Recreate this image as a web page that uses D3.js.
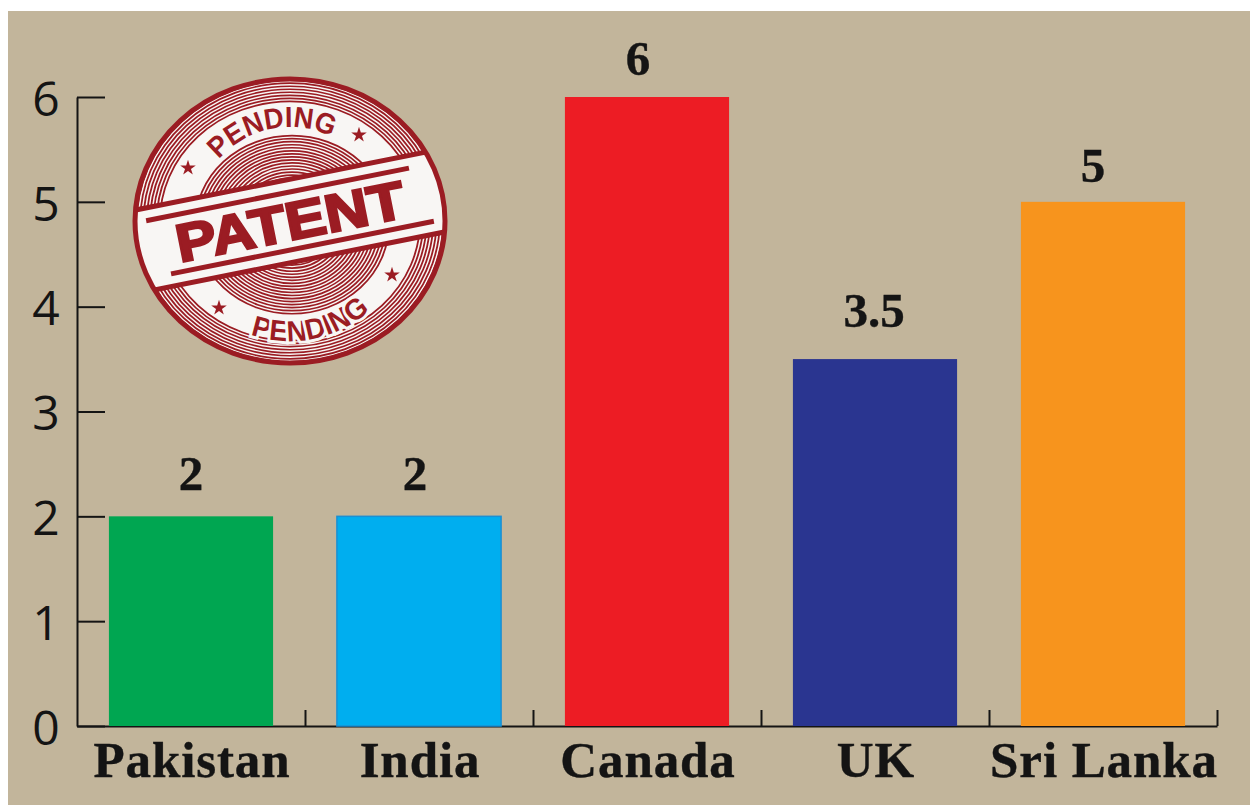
<!DOCTYPE html>
<html>
<head>
<meta charset="utf-8">
<title>Patents by country</title>
<script src="https://cdn.jsdelivr.net/npm/d3@7/dist/d3.min.js"></script>
<style>
  html, body { margin: 0; padding: 0; background: #fff; }
  svg { display: block; }
</style>
</head>
<body>
<svg id="chart" width="1250" height="806"></svg>
<script>
// Chart data
const countries = ["Pakistan", "India", "Canada", "UK", "Sri Lanka"];
const patents = [2, 2, 6, 3.5, 5];
const barColors = ["#00a651", "#00aeef", "#ed1c24", "#2a3590", "#f7941d"];
const valueTicks = [0, 1, 2, 3, 4, 5, 6];

const ink = "#141414";
const stampRed = "#9b1c23";
const stampPaper = "#f8f6f4";

const svg = d3.select("#chart");
svg.append("rect").attr("x", 8).attr("y", 11).attr("width", 1242).attr("height", 794).attr("fill", "#c2b59b");

const plot = { left: 77, right: 1217, top: 97, bottom: 726 };
const x = d3.scaleBand().domain(countries).range([plot.left, plot.right]).paddingInner(0.28).paddingOuter(0.14);
const y = d3.scaleLinear().domain([0, 6]).range([plot.bottom, plot.top]);
const slots = d3.scaleLinear().domain([0, countries.length]).range([plot.left, plot.right]);

// Value axis: ticks point into the plot
const yAxis = svg.append("g")
  .attr("transform", `translate(${plot.left},0)`)
  .call(d3.axisLeft(y).tickValues(valueTicks).tickSize(-28).tickSizeOuter(0).tickPadding(46).tickFormat(d3.format("d")));
yAxis.selectAll("path, line").attr("stroke", ink).attr("stroke-width", 2);
yAxis.selectAll("text")
  .attr("font-family", "'Open Sans', sans-serif")
  .attr("font-size", 48)
  .attr("fill", ink)
  .attr("text-anchor", "middle")
  .attr("x", -31)
  .attr("dy", "0.38em");

// Category axis: ticks mark the boundaries between countries
const xAxis = svg.append("g")
  .attr("transform", `translate(0,${plot.bottom})`)
  .call(d3.axisBottom(slots).ticks(countries.length).tickSize(-16).tickSizeOuter(0).tickFormat(""));
xAxis.selectAll("path, line").attr("stroke", ink).attr("stroke-width", 2);
xAxis.selectAll(".tick").filter(d => d === 0).remove();

// Bars
svg.append("g").selectAll("rect")
  .data(countries)
  .join("rect")
  .attr("x", d => x(d))
  .attr("y", (d, i) => y(patents[i]))
  .attr("width", x.bandwidth())
  .attr("height", (d, i) => y(0) - y(patents[i]))
  .attr("fill", (d, i) => barColors[i])
  .attr("stroke", d => d === "India" ? "#1b8fd2" : "none")
  .attr("stroke-width", 1.5);

// Category labels
const serif = "'Liberation Serif', 'Times New Roman', serif";
svg.append("g").selectAll("text")
  .data(countries)
  .join("text")
  .attr("x", d => x(d) + x.bandwidth() / 2 + 1)
  .attr("y", 777)
  .attr("text-anchor", "middle")
  .attr("font-family", serif)
  .attr("font-weight", "bold")
  .attr("font-size", 51)
  .attr("letter-spacing", 0.9)
  .attr("fill", ink)
  .attr("stroke", ink)
  .attr("stroke-width", 0.4)
  .text(d => d);

// Value labels above the bars, each set by hand clear of its bar
const labelLift = [26, 26, 22, 32, 20];
const labelShift = [0, -4, -9, -1, -10];
svg.append("g").selectAll("text")
  .data(patents)
  .join("text")
  .attr("x", (d, i) => x(countries[i]) + x.bandwidth() / 2 + labelShift[i])
  .attr("y", (d, i) => y(d) - labelLift[i])
  .attr("text-anchor", "middle")
  .attr("font-family", serif)
  .attr("font-weight", "bold")
  .attr("font-size", 49)
  .attr("fill", ink)
  .attr("stroke", ink)
  .attr("stroke-width", 0.4)
  .text(d => d);

// "Patent pending" rubber stamp
const stamp = svg.append("g").attr("transform", "translate(290,221)");
const defs = svg.append("defs");
defs.append("clipPath").attr("id", "stamp-disc")
  .append("ellipse").attr("rx", 155).attr("ry", 142);

stamp.append("ellipse").attr("rx", 155).attr("ry", 142).attr("fill", stampPaper);

const clipped = stamp.append("g").attr("clip-path", "url(#stamp-disc)");

// Engraved rim and central dome
const engraving = clipped.append("g").attr("transform", "scale(1,0.92)")
  .attr("fill", "none").attr("stroke", stampRed).attr("stroke-width", 1.8);
engraving.selectAll("circle.rim")
  .data(d3.range(130, 160, 3.3))
  .join("circle").attr("class", "rim").attr("r", d => d);
engraving.selectAll("circle.dome")
  .data(d3.range(44, 100, 3.3))
  .join("circle").attr("class", "dome").attr("cx", 2).attr("cy", 4).attr("r", d => d);

// Diagonal banner
const tilt = -11.3;
const banner = clipped.append("g").attr("transform", `rotate(${tilt})`);
banner.append("rect").attr("x", -180).attr("y", -41).attr("width", 360).attr("height", 82)
  .attr("fill", stampPaper).attr("stroke", stampRed).attr("stroke-width", 5);
banner.append("rect").attr("x", -141).attr("y", -31).attr("width", 268).attr("height", 5).attr("fill", stampRed);
banner.append("rect").attr("x", -127).attr("y", 26).attr("width", 268).attr("height", 5).attr("fill", stampRed);
banner.append("text")
  .attr("x", 0).attr("y", 19)
  .attr("text-anchor", "middle")
  .attr("font-family", "'Liberation Sans', Arial, sans-serif")
  .attr("font-weight", "bold")
  .attr("font-size", 53)
  .attr("textLength", 232)
  .attr("lengthAdjust", "spacingAndGlyphs")
  .attr("fill", stampRed)
  .attr("stroke", stampRed)
  .attr("stroke-width", 2.5)
  .text("PATENT");

// Curved captions
const captions = stamp.append("g").attr("transform", `rotate(${tilt})`);
defs.append("path").attr("id", "arc-top").attr("d", "M-94,0A94,94 0 0 1 94,0");
defs.append("path").attr("id", "arc-bottom").attr("d", "M-120,0A120,120 0 0 0 120,0");
["arc-top", "arc-bottom"].forEach(id => {
  captions.append("text")
    .attr("font-family", "'Liberation Sans', Arial, sans-serif")
    .attr("font-weight", "bold")
    .attr("font-size", 29)
    .attr("fill", stampRed)
    .attr("stroke", stampPaper)
    .attr("stroke-width", 6)
    .attr("paint-order", "stroke")
    .append("textPath")
    .attr("href", `#${id}`)
    .attr("startOffset", "50%")
    .attr("text-anchor", "middle")
    .attr("textLength", id === "arc-top" ? 124 : 128)
    .attr("lengthAdjust", "spacingAndGlyphs")
    .text("PENDING");
});

// Stars between the captions
const starPlaces = [[-102, -53], [69, -86], [-71, 87], [102, 54]];
stamp.append("g").selectAll("path")
  .data(starPlaces)
  .join("path")
  .attr("transform", d => `translate(${d[0]},${d[1]})`)
  .attr("d", d3.symbol(d3.symbolStar, 75))
  .attr("fill", stampRed);

// Outer ring
stamp.append("ellipse").attr("rx", 155).attr("ry", 142)
  .attr("fill", "none").attr("stroke", stampRed).attr("stroke-width", 5);
</script>
</body>
</html>
